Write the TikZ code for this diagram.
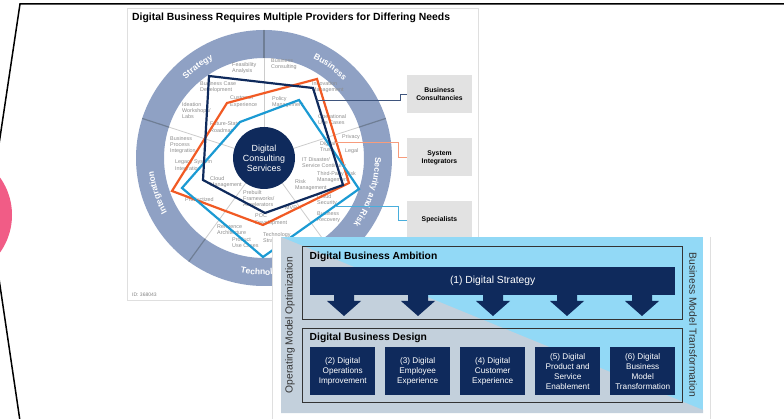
\documentclass[tikz,border=0pt]{standalone}
\usepackage{fontspec}
\setmainfont{Liberation Sans}
\usetikzlibrary{calc,decorations.text}
\definecolor{navy}{HTML}{0F2A5C}
\definecolor{orng}{HTML}{F15A24}
\definecolor{lblue}{HTML}{1B9AD3}
\definecolor{ringc}{HTML}{8FA1C4}
\definecolor{ringdiv}{HTML}{6F7E95}
\definecolor{lbl}{HTML}{8C8C8C}
\definecolor{pboxc}{HTML}{E2E2E2}
\definecolor{panelblue}{HTML}{92D9F6}
\definecolor{panelgray}{HTML}{C3D0DC}
\definecolor{pinkc}{HTML}{F15C86}
\definecolor{boxline}{HTML}{333333}
\begin{document}
\begin{tikzpicture}[x=1pt,y=-1pt,
  wl/.style={anchor=north west,inner sep=0pt,align=left,text=lbl,font=\fontsize{5.4}{6.2}\selectfont},
  poly/.style={line width=2.2pt,line join=miter},
  conn/.style={line width=0.6pt},
  pbox/.style={fill=pboxc,minimum width=65pt,minimum height=38pt,align=center,inner sep=1pt,font=\bfseries\fontsize{6.8}{8.2}\selectfont},
  dbox/.style={fill=navy,text=white,minimum width=65pt,minimum height=48pt,anchor=north west,align=center,inner sep=1pt,font=\fontsize{8.2}{10}\selectfont},
  outl/.style={draw=boxline,line width=0.8pt,anchor=north west,inner sep=0pt},
  rtext/.style={decorate,decoration={text along path,text align=center}}
]
\useasboundingbox (0,0) rectangle (784,419);
\clip (0,0) rectangle (784,419);
% slide frame
\fill[pinkc] (-52.6,215) circle[radius=64.6pt];
\draw[line width=1.5pt] (784,4) -- (20,4) -- (-11,211) -- (20,421);
% chart frame
\draw[gray!25,line width=0.5pt] (127,8) rectangle (478,300);
\node[anchor=west,inner sep=0pt,font=\bfseries\fontsize{10.4}{12}\selectfont] (title) at (132,17.5) {Digital Business Requires Multiple Providers for Differing Needs};
% wheel
\coordinate (c) at (264,158);
\fill[ringc,even odd rule] (c) circle[radius=128pt] (c) circle[radius=100pt];
\foreach \a in {90,18,-54,-126,162}{
  \draw[gray!40,line width=0.8pt] ([shift={(\a:31pt)}]c) -- ([shift={(\a:100pt)}]c);
  \draw[ringdiv,line width=1.2pt] ([shift={(\a:100pt)}]c) -- ([shift={(\a:128pt)}]c);
}
\path[rtext,decoration={text={|\bfseries\fontsize{8.5}{10}\selectfont\color{white}|Strategy}}] ([shift={(160:111pt)}]c) arc[start angle=160,end angle=92,radius=111pt];
\path[rtext,decoration={text={|\bfseries\fontsize{8.5}{10}\selectfont\color{white}|Business}}] ([shift={(88:111pt)}]c) arc[start angle=88,end angle=20,radius=111pt];
\path[rtext,decoration={text={|\bfseries\fontsize{8.5}{10}\selectfont\color{white}|Security and Risk}}] ([shift={(16:111pt)}]c) arc[start angle=16,end angle=-52,radius=111pt];
\path[rtext,decoration={text={|\bfseries\fontsize{8.5}{10}\selectfont\color{white}|Technology}}] ([shift={(-124:117pt)}]c) arc[start angle=-124,end angle=-56,radius=117pt];
\path[rtext,decoration={text={|\bfseries\fontsize{8.5}{10}\selectfont\color{white}|Integration}}] ([shift={(-128:111pt)}]c) arc[start angle=-128,end angle=-196,radius=111pt];
% wheel labels
\node[wl] (l1) at (232,62) {Feasibility\\Analysis};
\node[wl] (l2) at (271,58) {Business\\Consulting};
\node[wl] (l3) at (312,81) {Innovation\\Management};
\node[wl] (l4) at (200,81) {Business Case\\Development};
\node[wl] (l5) at (230,96) {Customer\\Experience};
\node[wl] (l6) at (272,96) {Policy\\Management};
\node[wl] (l7) at (182,102) {Ideation\\Workshops/\\Labs};
\node[wl] (l8) at (210,122) {Future-State\\Roadmap};
\node[wl] (l9) at (318,114) {Operational\\Use Cases};
\node[wl] (l10) at (342,134) {Privacy};
\node[wl] (l11) at (320,141) {Digital\\Trust};
\node[wl] (l12) at (345,148) {Legal};
\node[wl] (l13) at (170,136) {Business\\Process\\Integration};
\node[wl] (l14) at (302,157) {IT Disaster/\\Service Continuity};
\node[wl] (l15) at (175,160) {Legacy System\\Integration};
\node[wl] (l16) at (317,171) {Third-Party Risk\\Management};
\node[wl] (l17) at (295,179) {Risk\\Management};
\node[wl] (l18) at (210,176) {Cloud\\Management};
\node[wl] (l19) at (317,194) {Cloud\\Security};
\node[wl] (l20) at (243,190) {Prebuilt\\Frameworks/\\Accelerators};
\node[wl] (l21) at (185,197) {Productized};
\node[wl] (l22) at (285,206) {MVP};
\node[wl] (l23) at (255,214) {POC\\Development};
\node[wl] (l24) at (317,211) {Business\\Recovery};
\node[wl] (l25) at (217,224) {Reference\\Architecture};
\node[wl] (l26) at (263,232) {Technology\\Strategy};
\node[wl] (l27) at (232,237) {Product\\Use Cases};
% radar polygons
\draw[poly,orng] (172,191) -- (227,103) -- (317,79) -- (349,183) -- (263,225) -- cycle;
\draw[poly,lblue] (182,188) -- (240,122) -- (299,100) -- (359,189) -- (263,257) -- cycle;
\draw[poly,navy] (209,76) -- (313,88) -- (343,185) -- (265,213) -- (203,180) -- cycle;
\node[circle,fill=navy,minimum size=62pt,inner sep=0pt,text=white,align=center,font=\fontsize{8.9}{10}\selectfont] (dcs) at (c) {Digital\\Consulting\\Services};
% provider boxes
\node[pbox] (bcons) at (439.5,94) {Business\\Consultancies};
\node[pbox] (sysint) at (439.5,157.5) {System\\Integrators};
\node[pbox] (spec) at (439.5,220) {Specialists};
\coordinate (navyc) at (317,100);
\coordinate (orc) at (336,142);
\coordinate (blc) at (335,206);
\draw[conn,draw=navy!80] (navyc) -| ([xshift=-7pt]bcons.west) -- (bcons.west);
\draw[conn,draw=orng!60] (orc) -| ([xshift=-9pt]sysint.west) -- (sysint.west);
\draw[conn,draw=lblue!80] (blc) -| ([xshift=-9pt]spec.west) -- (spec.west);
\node[anchor=west,inner sep=0pt,text=gray,font=\fontsize{5}{6}\selectfont] (idt) at (132,295) {ID: 368043};
% overlay
\fill[white] (272,237) rectangle (710,419);
\draw[gray!25,line width=0.6pt] (272,237) -- (272,419);
\draw[gray!25,line width=0.6pt] (710,237) -- (710,419);
\fill[panelblue] (281,237) rectangle (703,413);
\fill[panelgray] (281,237) -- (703,410) -- (703,413) -- (281,413) -- cycle;
\node[outl,minimum width=380pt,minimum height=73pt] (amb) at (302,246) {};
\node[anchor=west,inner sep=0pt,font=\bfseries\fontsize{10.3}{12}\selectfont] (ambt) at (309.5,257) {Digital Business Ambition};
\node[fill=navy,text=white,anchor=north west,minimum width=365pt,minimum height=28pt,inner sep=0pt,font=\fontsize{10.3}{12}\selectfont] (strat) at (310,267) {(1) Digital Strategy};
\foreach \x in {344,418,493,567,642}{
  \fill[navy] (\x-10,294) -- (\x+10,294) -- (\x+10,301) -- (\x+17,301) -- (\x,316) -- (\x-17,301) -- (\x-10,301) -- cycle;
}
\node[outl,minimum width=380pt,minimum height=74pt] (des) at (302,328) {};
\node[anchor=west,inner sep=0pt,font=\bfseries\fontsize{10.3}{12}\selectfont] (dest) at (309.5,338) {Digital Business Design};
\node[dbox] (d2) at (310,347) {(2) Digital\\Operations\\Improvement};
\node[dbox] (d3) at (385,347) {(3) Digital\\Employee\\Experience};
\node[dbox] (d4) at (460,347) {(4) Digital\\Customer\\Experience};
\node[dbox] (d5) at (535,347) {(5) Digital\\Product and\\Service\\Enablement};
\node[dbox] (d6) at (610,347) {(6) Digital\\Business\\Model\\Transformation};
\node[rotate=90,inner sep=0pt,text=boxline,font=\fontsize{10.3}{12}\selectfont] (omo) at (290,325) {Operating Model Optimization};
\node[rotate=-90,inner sep=0pt,text=boxline,font=\fontsize{10.3}{12}\selectfont] (bmt) at (693,325) {Business Model Transformation};
\end{tikzpicture}
\end{document}
